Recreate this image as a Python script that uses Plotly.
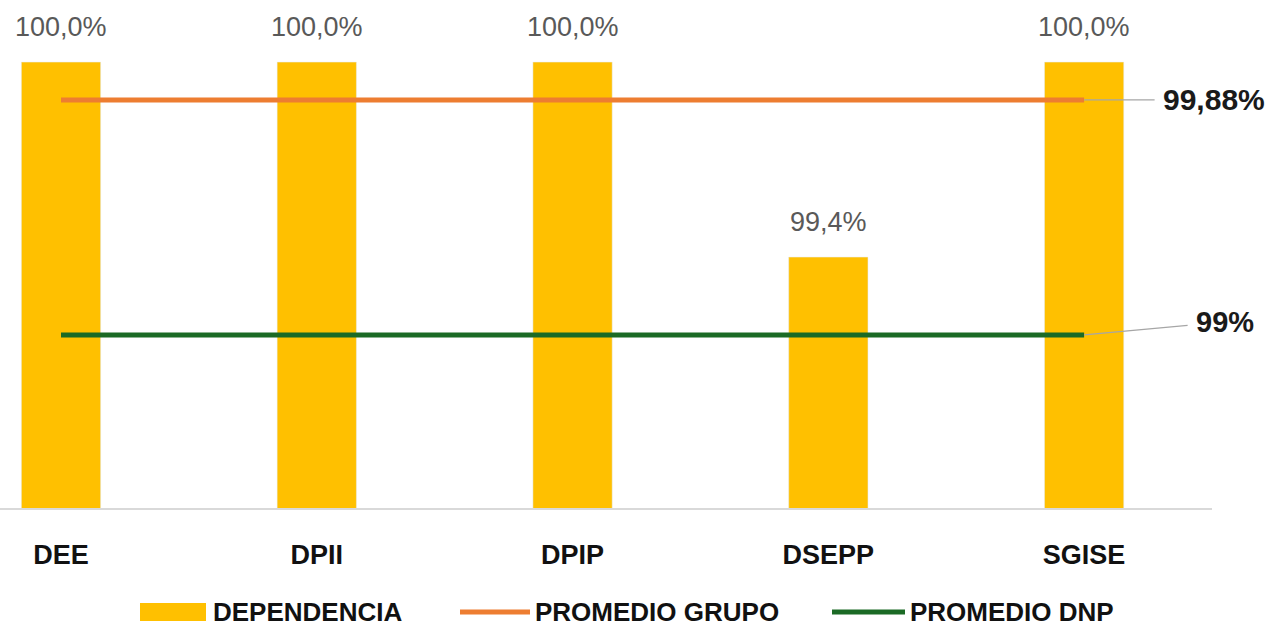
import plotly.graph_objects as go

categories = ["DEE", "DPII", "DPIP", "DSEPP", "SGISE"]
dependencia = [100.0, 100.0, 100.0, 99.4, 100.0]
promedio_grupo = [99.88, 99.88, 99.88, 99.88, 99.88]
promedio_dnp = [99.0, 99.0, 99.0, 99.0, 99.0]
legend_names = ["DEPENDENCIA", "PROMEDIO GRUPO", "PROMEDIO DNP"]

W, H = 1271, 628
ML, MR, MT, MB = 0, 59, 0, 120
PW, PH = W - ML - MR, H - MT - MB

def px(x):
    return (x - ML) / PW

def py(y):
    return (H - MB - y) / PH

YELLOW = "#FFC000"
ORANGE = "#ED7D31"
GREEN = "#1B6A25"
FONT = "Liberation Sans, Arial, sans-serif"

xs = list(range(len(categories)))

fig = go.Figure()
fig.add_trace(go.Bar(x=xs, y=dependencia, marker_color=YELLOW, width=0.31,
                     name=legend_names[0], showlegend=False, yaxis="y"))
fig.add_trace(go.Scatter(x=xs, y=promedio_grupo, mode="lines",
                         line=dict(color=ORANGE, width=5), name=legend_names[1],
                         showlegend=False, yaxis="y2"))
fig.add_trace(go.Scatter(x=xs, y=promedio_dnp, mode="lines",
                         line=dict(color=GREEN, width=5), name=legend_names[2],
                         showlegend=False, yaxis="y2"))

annotations = []
for i, v in enumerate(dependencia):
    annotations.append(dict(x=i, y=v, xref="x", yref="y", text=f"{v:.1f}%".replace(".", ","),
                            showarrow=False, yanchor="bottom", yshift=18,
                            font=dict(family=FONT, size=27, color="#595959")))

annotations.append(dict(x=xs[-1], y=promedio_grupo[-1], xref="x", yref="y2",
                        text=f"{promedio_grupo[-1]:.2f}%".replace(".", ","),
                        showarrow=True, arrowhead=0, arrowwidth=1.2, arrowcolor="#A6A6A6",
                        ax=130, ay=0, borderpad=8,
                        font=dict(family=FONT, size=30, color="#1a1a1a", weight="bold")))
annotations.append(dict(x=xs[-1], y=promedio_dnp[-1], xref="x", yref="y2",
                        text=f"{promedio_dnp[-1]:.0f}%",
                        showarrow=True, arrowhead=0, arrowwidth=1.2, arrowcolor="#A6A6A6",
                        ax=141, ay=-13, borderpad=8,
                        font=dict(family=FONT, size=29, color="#1a1a1a", weight="bold")))

# custom legend
shapes = [
    dict(type="rect", xref="paper", yref="paper", x0=px(140), x1=px(206), y0=py(621), y1=py(603),
         fillcolor=YELLOW, line=dict(width=0)),
    dict(type="line", xref="paper", yref="paper", x0=px(460), x1=px(530), y0=py(612), y1=py(612),
         line=dict(color=ORANGE, width=5)),
    dict(type="line", xref="paper", yref="paper", x0=px(832), x1=px(905), y0=py(612), y1=py(612),
         line=dict(color=GREEN, width=5)),
]
for name, lx in zip(legend_names, [211, 533, 908]):
    annotations.append(dict(x=px(lx), y=py(612), xref="paper", yref="paper", text=name,
                            showarrow=False, xanchor="left", yanchor="middle",
                            font=dict(family=FONT, size=26, color="#111111", weight="bold")))

fig.update_layout(
    width=W, height=H,
    margin=dict(l=ML, r=MR, t=MT, b=MB),
    paper_bgcolor="white", plot_bgcolor="white",
    showlegend=False,
    bargap=0.69,
    xaxis=dict(range=[-0.2385, 4.5], tickmode="array", tickvals=xs, ticktext=categories,
               showgrid=False, zeroline=False, showline=True, linecolor="#D9D9D9", linewidth=1.5,
               ticks="", ticklabelstandoff=22,
               tickfont=dict(family=FONT, size=27, color="#111111", weight="bold")),
    yaxis=dict(range=[98.628, 100.191], visible=False, showgrid=False, zeroline=False),
    yaxis2=dict(range=[98.352, 100.254], overlaying="y", side="right", visible=False,
                showgrid=False, zeroline=False),
    annotations=annotations,
    shapes=shapes,
)

fig.write_html("out.html")
